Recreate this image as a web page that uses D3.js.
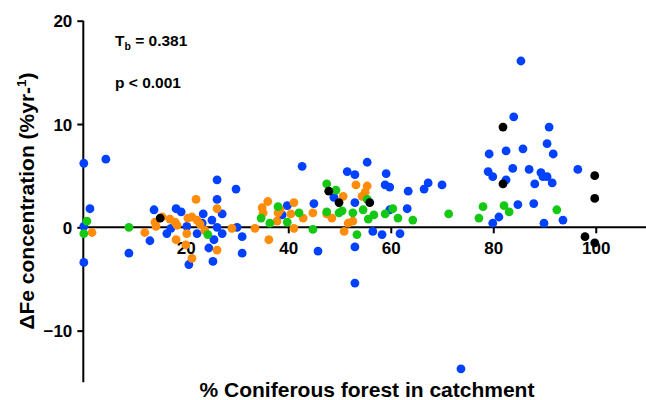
<!DOCTYPE html>
<html><head><meta charset="utf-8">
<script src="https://cdn.jsdelivr.net/npm/d3@7/dist/d3.min.js"></script>
<style>
html,body{margin:0;padding:0;background:#fff;}
svg text{font-family:"Liberation Sans",Arial,Helvetica,sans-serif;font-weight:bold;fill:#000;}
</style></head>
<body>
<svg id="chart" width="646" height="400"></svg>
<script>
// Data: [x = % coniferous forest, y = ΔFe concentration (%/yr)]
const blueSeries = [
 [0.1,6.2],[4.4,6.6],[1.3,1.8],[0.1,0.1],[0.1,-3.4],[8.9,-2.5],[13.0,-1.3],[13.8,1.7],
 [16.3,-0.6],[18.1,1.8],[19.1,1.5],[17.1,-0.1],[20.2,0.1],[20.6,-3.6],[23.4,1.3],[23.2,0.4],
 [22.2,-0.6],[25.1,0.7],[25.5,-1.2],[24.5,-2.0],[25.3,-3.3],[26.1,4.6],[26.1,2.7],[27.1,1.3],
 [26.1,0.0],[27.1,-0.6],[29.8,3.7],[30.0,0.0],[31.0,-0.9],[31.0,-2.5],[38.8,1.2],[39.8,2.1],
 [42.7,5.9],[45.0,2.3],[45.8,-2.3],[51.5,5.4],[53.0,5.1],[55.4,6.3],[59.1,5.2],[58.9,4.1],
 [59.8,3.9],[63.4,3.5],[66.5,3.7],[67.3,4.3],[70.0,4.1],[63.2,1.8],[59.8,1.7],[56.5,-0.4],
 [58.3,-0.7],[61.8,-0.6],[48.9,2.9],[53.0,2.4],[53.0,-1.9],[53.0,-5.4],[73.7,-13.7],
 [85.4,16.1],[84.0,10.7],[90.9,9.7],[90.5,8.1],[91.7,7.1],[82.5,7.4],[85.8,7.6],[79.2,7.1],
 [79.0,5.4],[79.9,4.9],[82.5,4.6],[83.8,5.7],[87.0,5.6],[89.3,5.3],[89.7,4.9],[90.5,4.9],
 [91.5,4.3],[88.1,4.2],[96.5,5.6],[84.8,2.2],[87.9,2.3],[81.1,1.0],[79.9,0.4],[89.9,0.4],[93.6,0.7]
];
const orangeSeries = [
 [1.7,-0.5],[12.0,-0.5],[14.0,0.5],[14.2,0.1],[15.4,1.0],[16.9,0.8],[17.9,0.5],[18.3,0.2],
 [18.1,-1.2],[20.0,-1.7],[20.4,0.9],[20.2,-0.6],[22.0,2.7],[26.1,1.8],[21.2,1.0],[22.2,0.7],
 [22.8,0.3],[21.2,-3.0],[26.1,-2.2],[23.7,-0.3],[29.0,-0.1],[33.5,-0.1],[34.9,1.9],[35.1,1.4],
 [36.0,2.5],[36.2,-1.2],[37.8,0.6],[38.4,1.7],[38.0,1.4],[41.1,2.4],[40.5,1.3],[42.9,0.9],
 [44.8,1.4],[41.1,-0.1],[47.5,1.3],[48.5,0.9],[50.7,3.0],[53.2,4.1],[55.4,4.0],[55.0,3.4],
 [54.4,3.0],[52.6,0.6],[51.7,0.4],[50.9,-0.4]
];
const greenSeries = [
 [0.7,0.6],[0.1,-0.6],[8.9,0.0],[24.3,-0.7],[34.7,0.9],[36.4,0.4],[38.0,2.0],[39.8,0.5],
 [42.1,1.4],[44.8,-0.2],[47.5,4.2],[49.3,3.6],[47.5,1.5],[49.9,1.4],[50.5,1.6],[52.6,1.4],
 [54.6,1.7],[55.4,2.7],[55.6,0.8],[56.7,1.2],[53.4,-0.7],[58.9,1.3],[60.4,1.8],[61.4,0.9],
 [64.3,0.7],[71.3,1.3],[78.0,2.0],[77.2,0.9],[82.1,2.1],[83.1,1.5],[92.4,1.7]
];
const blackSeries = [
 [15.0,0.9],[47.9,3.5],[49.9,2.4],[55.9,2.4],[81.9,9.7],[81.9,4.2],[99.8,5.0],[99.8,2.8],
 [97.9,-0.9],[99.8,-1.5]
];
const xTicks = [20,40,60,80,100];
const yTicks = [-10,0,10,20];
const statLines = ["= 0.381","p < 0.001"];

const svg = d3.select("#chart");
const x = d3.scaleLinear().domain([0,110]).range([83.3,647]);
const y = d3.scaleLinear().domain([-15,20]).range([382.3,20.7]);

// Y axis
const yAxis = svg.append("g").attr("transform",`translate(${x(0)},0)`)
  .call(d3.axisLeft(y).tickValues(yTicks).tickSize(6).tickPadding(5).tickFormat(d3.format("d")));
yAxis.select(".domain").attr("stroke","#000").attr("stroke-width",2).attr("d",`M0,${y(-15)}V${y(20)}`);
yAxis.selectAll(".tick line").attr("stroke","#000").attr("stroke-width",2);
yAxis.selectAll(".tick text").style("font-size","17px").attr("dy","0.36em");

// X axis at y = 0
const xAxis = svg.append("g").attr("transform",`translate(0,${y(0)})`)
  .call(d3.axisBottom(x).tickValues(xTicks).tickSize(6).tickPadding(9).tickFormat(d3.format("d")));
xAxis.select(".domain").attr("stroke","#000").attr("stroke-width",2).attr("d",`M${x(0)},0H${x(110)}`);
xAxis.selectAll(".tick line").attr("stroke","#000").attr("stroke-width",2);
xAxis.selectAll(".tick text").style("font-size","17px");

// Points
const groups = [
  {data: blueSeries, color:"#0040ff"},
  {data: orangeSeries, color:"#ff8c0a"},
  {data: greenSeries, color:"#14c814"},
  {data: blackSeries, color:"#000000"}
];
groups.forEach(g=>{
  svg.append("g").selectAll("circle").data(g.data).join("circle")
    .attr("cx",d=>x(d[0])).attr("cy",d=>y(d[1])).attr("r",4.4).attr("fill",g.color);
});

// Stats text
const t1 = svg.append("text").attr("x",115).attr("y",45.5).style("font-size","15.5px");
t1.append("tspan").text("T");
t1.append("tspan").text("b").style("font-size","10.5px").attr("dy","4");
t1.append("tspan").text(" " + statLines[0]).attr("dy","-4");
svg.append("text").attr("x",115).attr("y",88).style("font-size","15.5px").text(statLines[1]);

// Axis titles
const yt = svg.append("text").attr("transform","translate(34,201) rotate(-90)")
  .attr("text-anchor","middle").style("font-size","21px");
yt.append("tspan").text("ΔFe concentration (%yr-");
yt.append("tspan").text("1").style("font-size","13.5px").attr("dy","-8");
yt.append("tspan").text(")").attr("dy","8");

svg.append("text").attr("x",367).attr("y",397).attr("text-anchor","middle")
  .style("font-size","21px").text("% Coniferous forest in catchment");
</script>
</body></html>
